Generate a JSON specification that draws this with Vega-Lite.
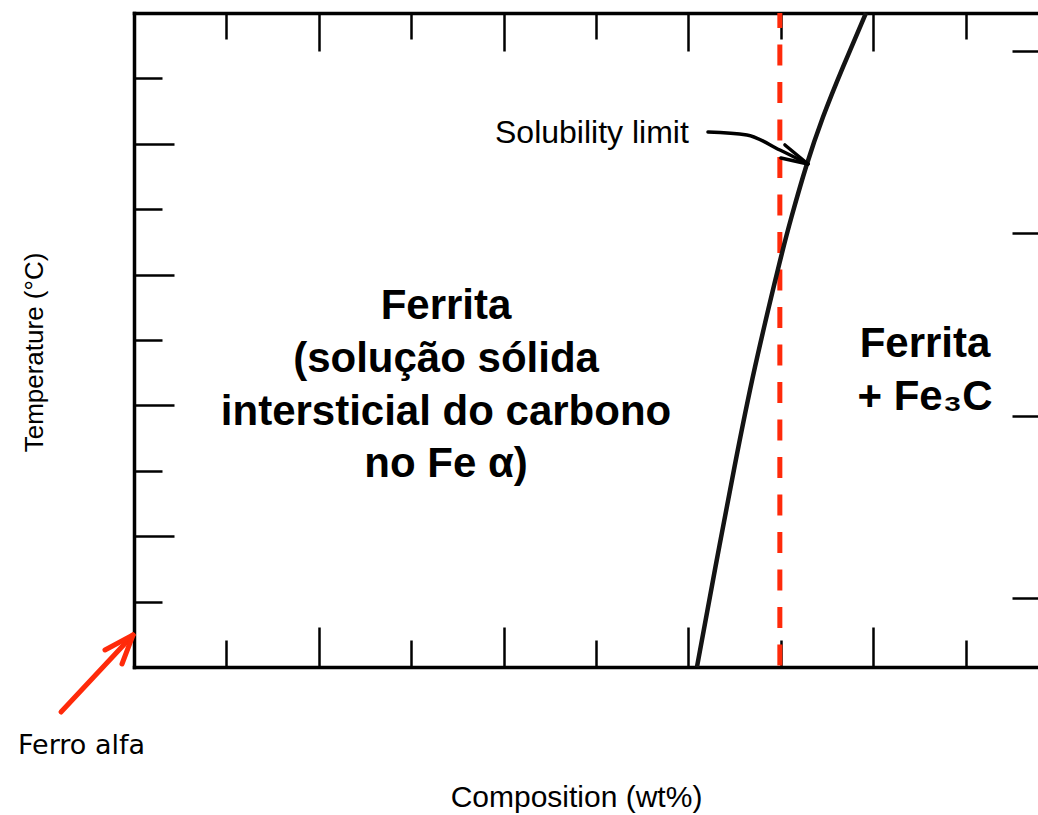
{
  "$schema": "https://vega.github.io/schema/vega-lite/v6.json",
  "width": 904,
  "height": 654,
  "autosize": {"type": "none"},
  "padding": {"left": 134, "top": 13, "right": 0, "bottom": 148},
  "background": "white",
  "config": {
    "view": {"stroke": null},
    "axis": {
      "labels": false,
      "grid": false,
      "domainColor": "#000000",
      "domainWidth": 3.5,
      "domainCap": "square",
      "tickColor": "#000000",
      "tickWidth": 2.5,
      "titleColor": "#000000",
      "titleFontWeight": "normal",
      "titleFont": "Liberation Sans",
      "titlePadding": 0
    }
  },
  "datasets": {
    "limite": [
      {"c": 6.093, "t": 0.0},
      {"c": 6.293, "t": 1.529},
      {"c": 6.499, "t": 3.058},
      {"c": 6.721, "t": 4.587},
      {"c": 6.981, "t": 6.147},
      {"c": 7.116, "t": 6.881},
      {"c": 7.273, "t": 7.645},
      {"c": 7.457, "t": 8.410},
      {"c": 7.673, "t": 9.174},
      {"c": 7.922, "t": 10.0}
    ],
    "marcador": [{"c": 6.99}],
    "setaSol": [
      {"seg": "haste", "i": 0, "c": 6.212, "t": 8.180},
      {"seg": "haste", "i": 1, "c": 6.634, "t": 8.135},
      {"seg": "haste", "i": 2, "c": 6.991, "t": 7.905},
      {"seg": "haste", "i": 3, "c": 7.294, "t": 7.691},
      {"seg": "asa1", "i": 0, "c": 7.294, "t": 7.691},
      {"seg": "asa1", "i": 1, "c": 7.045, "t": 7.982},
      {"seg": "asa2", "i": 0, "c": 7.294, "t": 7.691},
      {"seg": "asa2", "i": 1, "c": 7.002, "t": 7.783}
    ],
    "setaFerro": [
      {"seg": "haste", "i": 0, "c": -0.790, "t": -0.688},
      {"seg": "haste", "i": 1, "c": -0.011, "t": 0.489},
      {"seg": "asa1", "i": 0, "c": -0.011, "t": 0.489},
      {"seg": "asa1", "i": 1, "c": -0.314, "t": 0.260},
      {"seg": "asa2", "i": 0, "c": -0.011, "t": 0.489},
      {"seg": "asa2", "i": 1, "c": -0.130, "t": 0.046}
    ],
    "regioes": [
      {"c": 3.377, "t": 5.321, "txt": "Ferrita"},
      {"c": 3.377, "t": 4.511, "txt": "(solução sólida"},
      {"c": 3.377, "t": 3.700, "txt": "intersticial do carbono"},
      {"c": 3.377, "t": 2.905, "txt": "no Fe α)"},
      {"c": 8.561, "t": 4.740, "txt": "Ferrita"},
      {"c": 8.561, "t": 3.930, "txt": "+ Fe₃C"}
    ],
    "nota": [{"c": 3.907, "t": 8.01, "txt": "Solubility limit"}],
    "ferro": [{"c": -1.255, "t": -1.33, "txt": "Ferro alfa"}]
  },
  "layer": [
    {
      "data": {"name": "marcador"},
      "mark": {"type": "rule", "color": "#ff2a0a", "strokeWidth": 5, "strokeDash": [21, 16.5], "strokeDashOffset": 6, "strokeCap": "butt"},
      "encoding": {
        "x": {
          "field": "c", "type": "quantitative",
          "scale": {"domain": [0, 9.784], "nice": false},
          "axis": {"orient": "top", "title": null, "values": [1, 2, 3, 4, 5, 6, 7, 8, 9], "tickSize": {"expr": "datum.value % 2 === 0 ? -38 : -26"}}
        },
        "y": {
          "datum": 10, "type": "quantitative",
          "scale": {"domain": [0, 10], "nice": false},
          "axis": {"orient": "right", "title": null, "domain": false, "values": [1.055, 3.84, 6.64, 9.42], "tickSize": -26}
        },
        "y2": {"datum": 0}
      }
    },
    {
      "data": {"name": "limite"},
      "mark": {"type": "line", "color": "#141414", "strokeWidth": 4.5, "interpolate": "natural"},
      "encoding": {
        "x": {
          "field": "c", "type": "quantitative",
          "scale": {"domain": [0, 9.784], "nice": false},
          "axis": {
            "orient": "bottom", "title": "Composition (wt%)", "values": [1, 2, 3, 4, 5, 6, 7, 8, 9],
            "tickSize": {"expr": "datum.value % 2 === 0 ? -40 : -27"},
            "titleFontSize": 30, "titleX": 442, "titleY": 139, "titleAlign": "center", "titleBaseline": "alphabetic", "titleAnchor": null
          }
        },
        "y": {
          "field": "t", "type": "quantitative",
          "scale": {"domain": [0, 10], "nice": false},
          "axis": {
            "orient": "left", "title": "Temperature (°C)", "values": [1, 2, 3, 4, 5, 6, 7, 8, 9],
            "tickSize": {"expr": "datum.value % 2 === 0 ? -40 : -28"},
            "titleFontSize": 26,
            "titleAngle": 270, "titleX": -92, "titleY": 339, "titleAlign": "center", "titleBaseline": "alphabetic"
          }
        }
      }
    },
    {
      "data": {"name": "setaSol"},
      "mark": {"type": "line", "color": "#000000", "strokeWidth": 3.5, "interpolate": "monotone", "strokeCap": "round"},
      "encoding": {
        "x": {"field": "c", "type": "quantitative", "scale": {"domain": [0, 9.784], "nice": false}, "axis": null},
        "y": {"field": "t", "type": "quantitative", "scale": {"domain": [0, 10], "nice": false}, "axis": null},
        "detail": {"field": "seg"},
        "order": {"field": "i"}
      }
    },
    {
      "data": {"name": "setaFerro"},
      "mark": {"type": "line", "color": "#ff2a0a", "strokeWidth": 5, "strokeCap": "round"},
      "encoding": {
        "x": {"field": "c", "type": "quantitative", "scale": {"domain": [0, 9.784], "nice": false}, "axis": null},
        "y": {"field": "t", "type": "quantitative", "scale": {"domain": [0, 10], "nice": false}, "axis": null},
        "detail": {"field": "seg"},
        "order": {"field": "i"}
      }
    },
    {
      "data": {"name": "regioes"},
      "mark": {"type": "text", "font": "Liberation Sans", "fontSize": 42, "fontWeight": "bold", "align": "center", "baseline": "alphabetic", "color": "#000000"},
      "encoding": {
        "x": {"field": "c", "type": "quantitative", "scale": {"domain": [0, 9.784], "nice": false}, "axis": null},
        "y": {"field": "t", "type": "quantitative", "scale": {"domain": [0, 10], "nice": false}, "axis": null},
        "text": {"field": "txt"}
      }
    },
    {
      "data": {"name": "nota"},
      "mark": {"type": "text", "font": "Liberation Sans", "fontSize": 32, "align": "left", "baseline": "alphabetic", "color": "#000000"},
      "encoding": {
        "x": {"field": "c", "type": "quantitative", "scale": {"domain": [0, 9.784], "nice": false}, "axis": null},
        "y": {"field": "t", "type": "quantitative", "scale": {"domain": [0, 10], "nice": false}, "axis": null},
        "text": {"field": "txt"}
      }
    },
    {
      "data": {"name": "ferro"},
      "mark": {"type": "text", "font": "DejaVu Sans", "fontSize": 27, "align": "left", "baseline": "alphabetic", "color": "#000000"},
      "encoding": {
        "x": {"field": "c", "type": "quantitative", "scale": {"domain": [0, 9.784], "nice": false}, "axis": null},
        "y": {"field": "t", "type": "quantitative", "scale": {"domain": [0, 10], "nice": false}, "axis": null},
        "text": {"field": "txt"}
      }
    }
  ],
  "resolve": {"axis": {"x": "independent", "y": "independent"}}
}
